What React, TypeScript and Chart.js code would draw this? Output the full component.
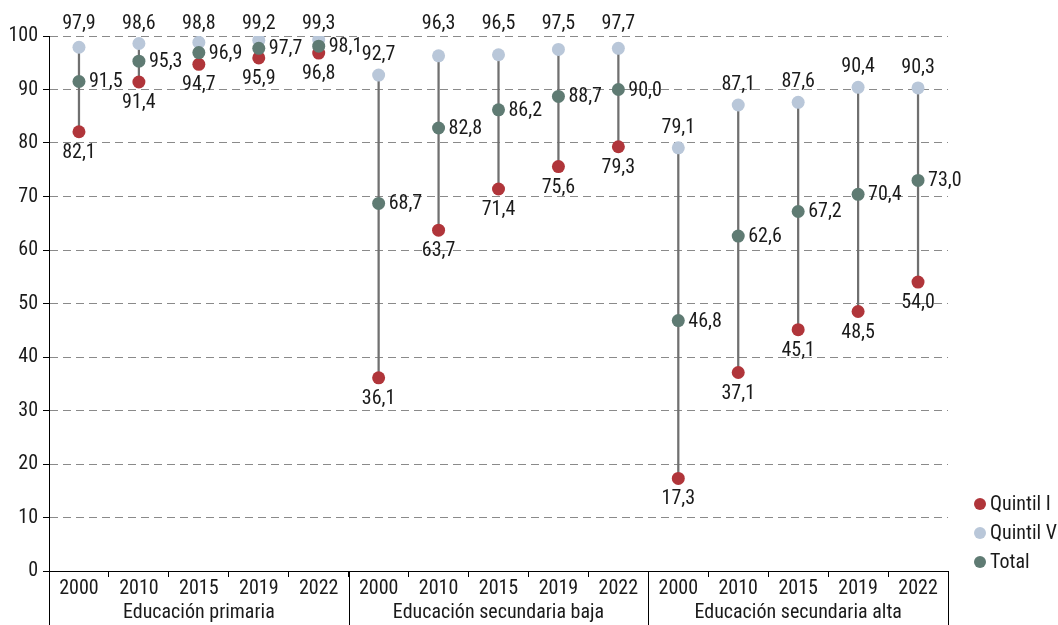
import React, { useEffect, useRef } from "react";
import { Chart, registerables } from "chart.js";

Chart.register(...registerables);

const years = ["2000", "2010", "2015", "2019", "2022", "2000", "2010", "2015", "2019", "2022", "2000", "2010", "2015", "2019", "2022"];
const groups = ["Educación primaria", "Educación secundaria baja", "Educación secundaria alta"];
const groupSize = 5;
const quintilI = [82.1, 91.4, 94.7, 95.9, 96.8, 36.1, 63.7, 71.4, 75.6, 79.3, 17.3, 37.1, 45.1, 48.5, 54.0];
const quintilV = [97.9, 98.6, 98.8, 99.2, 99.3, 92.7, 96.3, 96.5, 97.5, 97.7, 79.1, 87.1, 87.6, 90.4, 90.3];
const total = [91.5, 95.3, 96.9, 97.7, 98.1, 68.7, 82.8, 86.2, 88.7, 90.0, 46.8, 62.6, 67.2, 70.4, 73.0];
const yTicks = [0, 10, 20, 30, 40, 50, 60, 70, 80, 90, 100];

const FONT = "'Roboto Condensed', 'Liberation Sans Narrow', 'DejaVu Sans Condensed', 'Noto Sans', sans-serif";
const FS = 20;
const TEXT = "#1a1a1a";
const RED = "#b0353a";
const LIGHT = "#b9c7d9";
const GREEN = "#5f7b73";
const fmt = (v: number) => v.toFixed(1).replace(".", ",");

const decorPlugin = {
  id: "decor",
  afterDatasetsDraw(chart: any) {
    const { ctx, chartArea } = chart;
    ctx.save();
    ctx.font = `${FS}px ${FONT}`;
    ctx.fillStyle = TEXT;
    const metaV = chart.getDatasetMeta(2);
    const metaT = chart.getDatasetMeta(3);
    const metaI = chart.getDatasetMeta(1);
    ctx.textAlign = "center";
    ctx.textBaseline = "middle";
    metaV.data.forEach((p: any, i: number) => {
      const v = quintilV[i];
      const y = v >= 95 ? chartArea.top - 12 : p.y - 20;
      ctx.fillText(fmt(v), p.x, y);
    });
    metaI.data.forEach((p: any, i: number) => {
      ctx.fillText(fmt(quintilI[i]), p.x, p.y + 21);
    });
    ctx.textAlign = "left";
    metaT.data.forEach((p: any, i: number) => {
      ctx.fillText(fmt(total[i]), p.x + 10, p.y + 1);
    });
    ctx.restore();
  },
  afterDraw(chart: any) {
    const { ctx, chartArea } = chart;
    const xs = chart.scales.x;
    const H = chart.height;
    ctx.save();
    ctx.strokeStyle = "#000";
    ctx.lineWidth = 1;
    const half = (xs.getPixelForValue(1) - xs.getPixelForValue(0)) / 2;
    for (let g = 0; g <= groups.length; g++) {
      const idx = g * groupSize;
      const x = Math.round(xs.getPixelForValue(Math.min(idx, years.length - 1)) + (idx >= years.length ? half : -half)) + 0.5;
      ctx.beginPath();
      ctx.moveTo(x, chartArea.bottom);
      ctx.lineTo(x, H);
      ctx.stroke();
    }
    ctx.font = `${FS}px ${FONT}`;
    ctx.fillStyle = TEXT;
    ctx.textAlign = "center";
    ctx.textBaseline = "middle";
    groups.forEach((g, i) => {
      const a = xs.getPixelForValue(i * groupSize);
      const b = xs.getPixelForValue(i * groupSize + groupSize - 1);
      ctx.fillText(g, (a + b) / 2, chartArea.bottom + 42);
    });
    const items = [
      { label: "Quintil I", color: RED },
      { label: "Quintil V", color: LIGHT },
      { label: "Total", color: GREEN },
    ];
    ctx.textAlign = "left";
    items.forEach((it, i) => {
      const y = 504 + i * 29;
      ctx.fillStyle = it.color;
      ctx.beginPath();
      ctx.arc(980, y, 6, 0, Math.PI * 2);
      ctx.fill();
      ctx.fillStyle = TEXT;
      ctx.fillText(it.label, 990, y + 1);
    });
    ctx.restore();
  },
};

export default function App() {
  const ref = useRef<HTMLCanvasElement>(null);
  useEffect(() => {
    document.body.style.margin = "0";
    const chart = new Chart(ref.current!, {
      type: "bar",
      data: {
        labels: years,
        datasets: [
          {
            type: "bar",
            label: "range",
            data: quintilI.map((v, i) => [v, quintilV[i]]) as any,
            backgroundColor: "#707070",
            barThickness: 1.6,
            order: 10,
          },
          {
            type: "line",
            label: "Quintil I",
            data: quintilI,
            showLine: false,
            pointRadius: 6.5,
            pointBackgroundColor: RED,
            pointBorderWidth: 0,
            order: 2,
          },
          {
            type: "line",
            label: "Quintil V",
            data: quintilV,
            showLine: false,
            pointRadius: 6.5,
            pointBackgroundColor: LIGHT,
            pointBorderWidth: 0,
            order: 3,
          },
          {
            type: "line",
            label: "Total",
            data: total,
            showLine: false,
            pointRadius: 6.5,
            pointBackgroundColor: GREEN,
            pointBorderWidth: 0,
            order: 1,
          },
        ] as any,
      },
      options: {
        animation: false,
        responsive: false,
        maintainAspectRatio: false,
        layout: { padding: { top: 36, right: 110, left: 0, bottom: 0 } },
        plugins: { legend: { display: false }, tooltip: { enabled: false } },
        scales: {
          x: {
            offset: true,
            grid: { offset: true, drawOnChartArea: false, drawTicks: true, tickLength: 6, color: "#000", tickColor: "#000" },
            border: { display: true, color: "#000", width: 1 },
            ticks: { color: TEXT, font: { family: FONT, size: FS }, padding: 0, maxRotation: 0, autoSkip: false },
            afterFit: (s: any) => { s.height = 54; },
          },
          y: {
            min: 0,
            max: 100,
            afterBuildTicks: (s: any) => { s.ticks = yTicks.map((v) => ({ value: v })); },
            grid: { color: "#8a8a8a", lineWidth: 1, tickColor: "#000", tickLength: 6, drawTicks: true },
            border: { display: true, color: "#000", width: 1, dash: [8, 5] },
            ticks: { color: TEXT, font: { family: FONT, size: FS }, padding: 5 },
            afterFit: (s: any) => { s.width = 49; },
          },
        },
      } as any,
      plugins: [decorPlugin],
    });
    return () => chart.destroy();
  }, []);
  return (
    <div style={{ position: "absolute", left: 0, top: 0, width: 1058, height: 625 }}>
      <canvas ref={ref} width={1058} height={625} style={{ width: 1058, height: 625 }} />
    </div>
  );
}
